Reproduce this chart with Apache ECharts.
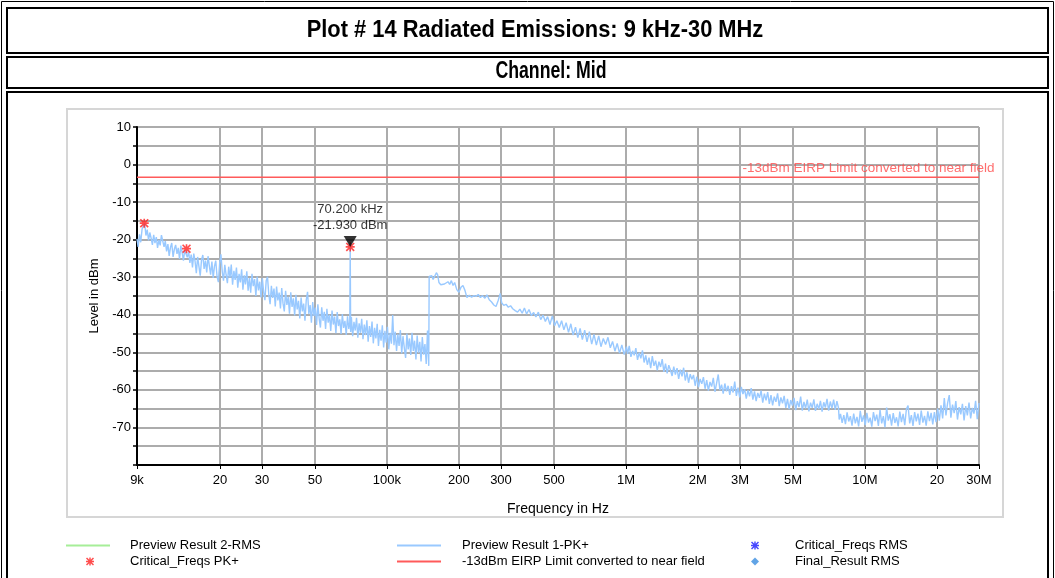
<!DOCTYPE html>
<html><head><meta charset="utf-8">
<script src="https://cdn.jsdelivr.net/npm/echarts@6/dist/echarts.min.js"></script>
<style>html,body{margin:0;padding:0;background:#fff;}#c{width:1055px;height:578px;}</style>
</head><body><div id="c"></div>
<script>
// ---- data (frequency in kHz, level in dBm) ----
const pkLow = [[9.0,-19.8],[9.1,-21.9],[9.22,-18.6],[9.33,-20.7],[9.45,-17.2],[9.57,-16.4],[9.69,-15.7],[9.81,-18.9],[9.93,-17.3],[10.06,-20.2],[10.18,-18.1],[10.31,-19.6],[10.44,-21.4],[10.57,-18.7],[10.7,-20.9],[10.84,-19.3],[10.97,-22.2],[11.11,-20.1],[11.25,-21.5],[11.39,-18.8],[11.53,-18.3],[11.68,-21.9],[11.82,-20.4],[11.97,-23.1],[12.12,-21.2],[12.27,-24.3],[12.43,-22.0],[12.58,-20.9],[12.74,-24.6],[12.9,-22.5],[13.06,-21.4],[13.23,-23.8],[13.39,-22.2],[13.56,-25.1],[13.73,-21.6],[13.9,-23.4],[14.08,-25.6],[14.25,-22.8],[14.43,-22.5],[14.61,-24.7],[14.8,-23.1],[14.98,-26.2],[15.17,-24.0],[15.36,-27.4],[15.55,-23.7],[15.75,-25.8],[15.94,-28.9],[16.14,-24.6],[16.35,-27.2],[16.55,-29.6],[16.76,-25.3],[16.97,-24.1],[17.18,-27.8],[17.4,-25.6],[17.62,-28.7],[17.84,-24.4],[18.06,-26.9],[18.29,-29.3],[18.52,-25.8],[18.75,-30.2],[18.98,-27.1],[19.22,-25.6],[19.46,-29.8],[19.71,-31.3],[19.95,-26.4],[20.2,-23.9],[20.46,-28.5],[20.71,-30.9],[20.97,-26.7],[21.24,-29.4],[21.5,-31.6],[21.77,-27.2],[22.05,-30.1],[22.32,-26.6],[22.6,-32.0],[22.89,-28.3],[23.17,-30.7],[23.46,-27.4],[23.76,-32.8],[24.06,-29.1],[24.36,-31.4],[24.66,-27.9],[24.97,-33.3],[25.29,-29.5],[25.6,-31.9],[25.92,-28.4],[26.25,-33.6],[26.58,-30.2],[26.91,-34.1],[27.25,-29.1],[27.59,-32.4],[27.94,-30.5],[28.29,-35.0],[28.64,-29.8],[29.0,-33.5],[29.37,-31.2],[29.73,-35.4],[30.11,-30.3],[30.48,-33.9],[30.86,-36.1],[31.25,-30.9],[31.64,-29.9],[32.04,-34.6],[32.44,-37.2],[32.85,-32.3],[33.26,-35.5],[33.68,-33.0],[34.1,-37.8],[34.53,-32.5],[34.96,-36.2],[35.4,-34.1],[35.84,-38.3],[36.29,-32.9],[36.74,-36.9],[37.2,-39.1],[37.67,-33.6],[38.14,-37.4],[38.62,-35.2],[39.1,-39.7],[39.59,-34.0],[40.09,-37.9],[40.59,-35.6],[41.1,-40.2],[41.61,-34.7],[42.13,-38.6],[42.66,-36.3],[43.19,-41.0],[43.73,-35.4],[44.28,-39.1],[44.83,-37.0],[45.39,-41.6],[45.96,-36.1],[46.54,-33.9],[47.12,-39.8],[47.71,-37.4],[48.3,-42.1],[48.91,-36.6],[49.52,-40.3],[50.14,-38.1],[50.76,-42.7],[51.4,-37.2],[52.04,-41.0],[52.69,-43.4],[53.35,-38.0],[54.02,-41.6],[54.69,-39.2],[55.37,-43.8],[56.07,-38.4],[56.77,-42.1],[57.48,-40.0],[58.2,-44.3],[58.92,-38.9],[59.66,-42.6],[60.4,-40.5],[61.16,-44.9],[61.92,-39.3],[62.7,-43.0],[63.48,-41.2],[64.27,-45.1],[65.08,-39.8],[65.89,-43.5],[66.71,-41.6],[67.55,-45.4],[68.39,-40.4],[69.25,-43.8],[69.9,-42.0],[70.2,-21.93],[70.5,-44.6],[71.0,-40.6],[71.88,-45.7],[72.78,-41.9],[73.69,-44.2],[74.61,-40.8],[75.54,-46.1],[76.49,-42.3],[77.45,-44.8],[78.41,-41.1],[79.39,-46.5],[80.39,-42.6],[81.39,-45.4],[82.41,-41.5],[83.44,-47.2],[84.48,-43.0],[85.54,-45.9],[86.61,-41.8],[87.69,-47.6],[88.79,-43.5],[89.9,-46.3],[91.02,-42.4],[92.16,-48.3],[93.31,-44.0],[94.48,-46.9],[95.66,-42.8],[96.85,-48.7],[98.06,-44.3],[99.29,-47.4],[100.5,-43.2],[101.8,-49.2],[103.1,-44.8],[104.4,-47.7],[105.7,-40.1],[107.0,-48.1],[108.3,-44.5],[109.7,-49.6],[111.1,-45.2],[112.4,-48.3],[113.8,-44.1],[115.3,-50.3],[116.7,-45.7],[118.2,-48.8],[119.7,-51.5],[121.2,-45.0],[122.7,-49.2],[124.2,-46.3],[125.8,-50.7],[127.3,-44.8],[128.9,-49.6],[130.5,-46.9],[132.2,-51.9],[133.8,-45.5],[135.5,-50.1],[137.2,-47.2],[138.9,-52.4],[140.6,-45.9],[142.4,-50.6],[144.2,-47.8],[146.0,-53.1],[147.8,-44.2],[149.6,-53.6]];
const pkMid = [[150.2,-29.8],[152,-30.3],[154,-29.6],[156,-30.6],[158,-29.9],[161,-28.8],[163,-29.4],[165,-31.4],[168,-32.0],[171,-31.5],[174,-31.8],[177,-31.6],[180,-31.2],[183,-31.9],[186,-30.9],[189,-32.2],[192,-31.4],[196,-33.3],[200,-34.0],[204,-32.7],[208,-32.2],[212,-33.5],[216,-35.4],[221,-34.8],[226,-35.3],[231,-34.9],[236,-35.1],[241,-34.6],[246,-35.4],[251,-34.9],[257,-35.6],[262,-34.7],[268,-36.0],[274,-36.6],[280,-37.4],[286,-37.8],[292,-36.2],[298,-34.3],[302,-36.8],[308,-37.5],[315,-37.2],[322,-38.0],[329,-37.6],[336,-38.4],[344,-38.9],[352,-39.3],[360,-38.5],[368,-39.6],[376,-38.2],[384,-39.8],[393,-38.6],[402,-40.2],[411,-39.4],[420,-40.6],[430,-39.3],[440,-41.3],[450,-40.1],[460,-41.8],[470,-40.5],[481,-42.6],[492,-40.3],[503,-42.9],[514,-41.6],[526,-43.4],[538,-41.6],[550,-44.0],[562,-42.1],[575,-44.7],[588,-42.4],[601,-45.4],[615,-43.3],[629,-46.1],[643,-43.6],[657,-46.6],[672,-44.1],[687,-47.2],[703,-44.5],[719,-47.8],[735,-45.2],[752,-48.1],[769,-45.6],[786,-48.5],[804,-46.3],[822,-47.9],[841,-46.0],[860,-48.8],[879,-47.1],[899,-49.7],[919,-47.6],[940,-50.2],[961,-48.0],[983,-50.6],[1005,-48.5]];
const pkHigh = [[1016,-50.4],[1032,-48.3],[1049,-51.2],[1066,-49.6],[1083,-50.8],[1100,-48.9],[1118,-52.0],[1136,-50.1],[1154,-51.6],[1172,-49.5],[1191,-52.7],[1210,-50.8],[1229,-53.3],[1249,-51.4],[1269,-54.2],[1289,-51.0],[1310,-53.6],[1331,-52.2],[1352,-54.8],[1374,-52.5],[1396,-53.9],[1418,-51.8],[1441,-55.2],[1464,-53.0],[1487,-55.6],[1511,-53.4],[1535,-54.7],[1560,-56.3],[1585,-53.8],[1610,-55.9],[1636,-54.2],[1662,-57.1],[1689,-54.6],[1716,-56.4],[1743,-54.1],[1771,-57.5],[1799,-55.3],[1828,-58.1],[1857,-55.8],[1887,-57.2],[1917,-56.0],[1948,-58.9],[1979,-56.5],[2011,-59.3],[2043,-57.1],[2076,-58.4],[2109,-56.6],[2143,-59.7],[2177,-57.4],[2212,-60.2],[2247,-57.9],[2283,-59.1],[2320,-56.8],[2357,-60.5],[2395,-58.2],[2433,-55.9],[2472,-60.1],[2512,-58.6],[2552,-61.0],[2593,-58.3],[2634,-60.4],[2676,-58.9],[2719,-61.3],[2763,-59.0],[2807,-60.7],[2852,-57.8],[2897,-61.6],[2944,-59.4],[2991,-62.0],[3039,-59.2],[3087,-61.1],[3137,-59.8],[3187,-62.3],[3238,-60.1],[3290,-61.7],[3342,-59.5],[3396,-62.6],[3450,-60.4],[3505,-63.0],[3561,-60.8],[3618,-62.1],[3676,-60.2],[3735,-63.4],[3795,-61.0],[3856,-62.8],[3917,-60.6],[3980,-63.7],[4044,-61.4],[4108,-64.1],[4174,-61.8],[4241,-63.2],[4309,-60.9],[4378,-64.3],[4448,-62.0],[4519,-63.6],[4591,-61.6],[4665,-64.8],[4740,-62.4],[4815,-65.1],[4892,-62.7],[4971,-64.2],[5050,-62.1],[5131,-65.4],[5213,-63.0],[5297,-64.6],[5382,-61.8],[5468,-65.5],[5555,-63.2],[5644,-64.9],[5735,-62.6],[5826,-65.7],[5920,-63.4],[6014,-64.8],[6111,-62.5],[6208,-65.6],[6308,-63.7],[6409,-65.1],[6511,-62.9],[6615,-65.8],[6721,-63.3],[6829,-64.7],[6938,-62.4],[7049,-65.5],[7162,-63.1],[7276,-64.9],[7393,-62.6],[7511,-65.3],[7631,-63.0],[7750,-64.8],[7800,-67.9],[7900,-66.4],[8026,-68.8],[8155,-66.7],[8285,-69.1],[8418,-66.0],[8552,-68.4],[8689,-67.0],[8828,-69.5],[8970,-66.3],[9113,-68.9],[9259,-67.2],[9407,-69.7],[9558,-65.6],[9711,-68.5],[9866,-66.8],[10024,-69.4],[10184,-66.1],[10347,-68.7],[10513,-67.4],[10681,-69.8],[10852,-65.9],[11026,-68.3],[11202,-66.6],[11381,-69.6],[11563,-65.3],[11748,-68.9],[11936,-67.0],[12127,-69.9],[12321,-64.7],[12518,-68.2],[12719,-66.5],[12922,-69.5],[13129,-66.2],[13339,-68.8],[13552,-67.3],[13769,-69.7],[13989,-65.8],[14213,-68.6],[14441,-66.4],[14672,-69.4],[14907,-65.1],[15145,-64.2],[15387,-68.9],[15634,-66.7],[15884,-69.6],[16138,-65.9],[16396,-68.4],[16659,-66.3],[16925,-69.3],[17196,-65.5],[17471,-68.7],[17751,-66.9],[18035,-69.5],[18323,-65.7],[18617,-68.3],[18914,-66.1],[19217,-69.2],[19524,-65.9],[19837,-68.6],[20154,-65.0],[20477,-68.2],[20804,-64.1],[21137,-67.6],[21475,-62.2],[21819,-66.8],[22168,-63.5],[22523,-61.4],[22883,-67.4],[23249,-63.9],[23621,-66.2],[23999,-63.0],[24383,-67.9],[24773,-64.6],[25170,-66.5],[25572,-63.7],[25981,-68.1],[26397,-64.3],[26820,-66.8],[27249,-63.4],[27685,-67.6],[28128,-64.8],[28578,-66.3],[29035,-62.9],[29500,-67.8],[30000,-63.5]];
const limitLevel = -3.4;
const critFreqsPk = [[9.65,-15.6],[14.5,-22.4],[70.2,-21.93]];
const markerPoint = [70.2,-21.93];
const xRange = [9, 30000];
const yRange = [-80, 10];
const xTickValues = [9, 20, 30, 50, 100, 200, 300, 500, 1000, 2000, 3000, 5000, 10000, 20000, 30000];
const xTickLabels = ['9k','20','30','50','100k','200','300','500','1M','2M','3M','5M','10M','20','30M'];
const yLabelValues = [10, 0, -10, -20, -30, -40, -50, -60, -70];

const seriesNames = {
  rms: 'Preview Result 2-RMS', pk: 'Preview Result 1-PK+', critRms: 'Critical_Freqs RMS',
  critPk: 'Critical_Freqs PK+', limit: '-13dBm EIRP Limit converted to near field', finalRms: 'Final_Result RMS'
};

const toHz = arr => arr.map(([k, v]) => [k * 1000, v]);
const trace = toHz(pkLow.concat(pkMid, pkHigh));
const hzTicks = xTickValues.map(k => k * 1000);
const tickLabelOf = v => { const i = hzTicks.findIndex(t => Math.abs(t - v) / t < 1e-6); return i >= 0 ? xTickLabels[i] : ''; };

const SANS = "'Liberation Sans', Arial, sans-serif";
const STAR = 'path://M4.1 0H5.9V10H4.1Z M0 4.1H10V5.9H0Z M1.3 0L10 8.7L8.7 10L0 1.3Z M8.7 0L10 1.3L1.3 10L0 8.7Z';

function mkLegend(name, icon, left, top, w, h, pad) {
  return { data: [{ name, icon }], left, top, itemWidth: w, itemHeight: h, padding: 0, itemGap: 0,
    selectedMode: false, textStyle: { fontFamily: SANS, fontSize: 13, color: '#000', padding: [0, 0, 0, pad] } };
}

const chart = echarts.init(document.getElementById('c'), null, { renderer: 'canvas' });
chart.setOption({
  animation: false,
  backgroundColor: '#fff',
  graphic: [
    { type: 'rect', silent: true, shape: { x: 1.5, y: 1.5, width: 1052, height: 600 }, style: { fill: 'none', stroke: '#000', lineWidth: 1 } },
    { type: 'rect', silent: true, shape: { x: 7, y: 8, width: 1041, height: 45 }, style: { fill: 'none', stroke: '#000', lineWidth: 2 } },
    { type: 'rect', silent: true, shape: { x: 7, y: 57, width: 1041, height: 31 }, style: { fill: 'none', stroke: '#000', lineWidth: 2 } },
    { type: 'rect', silent: true, shape: { x: 7, y: 92, width: 1041, height: 520 }, style: { fill: 'none', stroke: '#000', lineWidth: 2 } },
    { type: 'rect', silent: true, shape: { x: 67, y: 109, width: 936, height: 408 }, style: { fill: 'none', stroke: '#d6d6d6', lineWidth: 2 } },
    { type: 'text', silent: true, x: 535, y: 31, scaleX: 0.95, style: { text: 'Plot # 14 Radiated Emissions: 9 kHz-30 MHz', align: 'center', verticalAlign: 'middle', font: "bold 23px " + SANS, fill: '#000' } },
    { type: 'text', silent: true, x: 551, y: 72, scaleX: 0.77, style: { text: 'Channel: Mid', align: 'center', verticalAlign: 'middle', font: "bold 23px " + SANS, fill: '#000' } }
  ],
  legend: [
    mkLegend(seriesNames.rms, 'rect', 66, 539, 44, 2, 15),
    mkLegend(seriesNames.pk, 'rect', 397, 539, 44, 2, 16),
    mkLegend(seriesNames.critRms, STAR, 751, 539, 8, 8, 31),
    mkLegend(seriesNames.critPk, STAR, 86, 555, 8, 8, 31),
    mkLegend(seriesNames.limit, 'rect', 397, 555, 44, 2, 16),
    mkLegend(seriesNames.finalRms, 'diamond', 751, 555, 8, 8, 31)
  ],
  grid: { left: 137, right: 76, top: 127, bottom: 113, containLabel: false },
  xAxis: {
    type: 'log', logBase: 10, min: xRange[0] * 1000, max: xRange[1] * 1000,
    name: 'Frequency in Hz', nameLocation: 'middle', nameGap: 37,
    nameTextStyle: { fontFamily: SANS, fontSize: 14, color: '#000' },
    axisLine: { show: true, onZero: false, lineStyle: { color: '#000', width: 2 } },
    axisTick: { show: true, length: 4, customValues: hzTicks, lineStyle: { color: '#000', width: 1 } },
    axisLabel: { customValues: hzTicks, formatter: v => tickLabelOf(v), fontFamily: SANS, fontSize: 13, color: '#000', margin: 9 },
    splitLine: { show: true, lineStyle: { color: '#acacac', width: 2 } },
    minorTick: { show: false }, minorSplitLine: { show: false }
  },
  yAxis: {
    type: 'value', min: yRange[0], max: yRange[1], interval: 5,
    name: 'Level in dBm', nameLocation: 'middle', nameGap: 35, nameRotate: 90,
    nameTextStyle: { fontFamily: SANS, fontSize: 13, color: '#000' },
    axisLine: { show: true, onZero: false, lineStyle: { color: '#000', width: 2 } },
    axisTick: { show: true, length: 4, lineStyle: { color: '#000', width: 1.5 } },
    axisLabel: { formatter: v => yLabelValues.includes(v) ? String(v) : '', fontFamily: SANS, fontSize: 13, color: '#000', margin: 6 },
    splitLine: { show: true, lineStyle: { color: '#acacac', width: 2 } }
  },
  series: [
    { name: seriesNames.rms, type: 'line', data: [], color: '#a6ee98', showSymbol: false },
    { name: seriesNames.pk, type: 'line', data: trace, color: '#99c9ff', showSymbol: false, symbol: 'none',
      lineStyle: { width: 1.4, color: '#99c9ff' }, z: 3 },
    { name: seriesNames.limit, type: 'line', data: [[xRange[0] * 1000, limitLevel], [xRange[1] * 1000, limitLevel]],
      color: '#ff5a5a', showSymbol: false, symbol: 'none', lineStyle: { width: 1.5, color: '#ff5a5a' }, z: 4 },
    { name: seriesNames.critPk, type: 'scatter', data: toHz(critFreqsPk), symbol: STAR, symbolSize: 9,
      itemStyle: { color: '#ff2020' }, z: 5 },
    { name: seriesNames.critRms, type: 'scatter', data: [], symbol: STAR, symbolSize: 9, itemStyle: { color: '#1a1aff' } },
    { name: seriesNames.finalRms, type: 'scatter', data: [], symbol: 'diamond', symbolSize: 9, itemStyle: { color: '#3a8de0' } },
    { name: 'marker', type: 'scatter', data: [[markerPoint[0] * 1000, markerPoint[1]]], symbol: 'triangle', symbolRotate: 180,
      symbolSize: [13, 11], symbolOffset: [0, -5.5], itemStyle: { color: '#000' }, z: 6,
      label: { show: true, position: 'top', distance: 2, fontFamily: SANS, fontSize: 13, lineHeight: 16, color: '#000',
        formatter: p => (p.value[0] / 1000).toFixed(3) + ' kHz\n' + p.value[1].toFixed(3) + ' dBm' } },
    { name: 'limitLabel', type: 'scatter', data: [[xRange[1] * 1000, limitLevel]], symbolSize: 1,
      itemStyle: { color: 'rgba(0,0,0,0)' }, z: 6,
      label: { show: true, position: [16, -2], align: 'right', verticalAlign: 'bottom', fontFamily: SANS, fontSize: 13.5,
        color: '#ff4a4a', formatter: () => seriesNames.limit } }
  ]
});
</script></body></html>
